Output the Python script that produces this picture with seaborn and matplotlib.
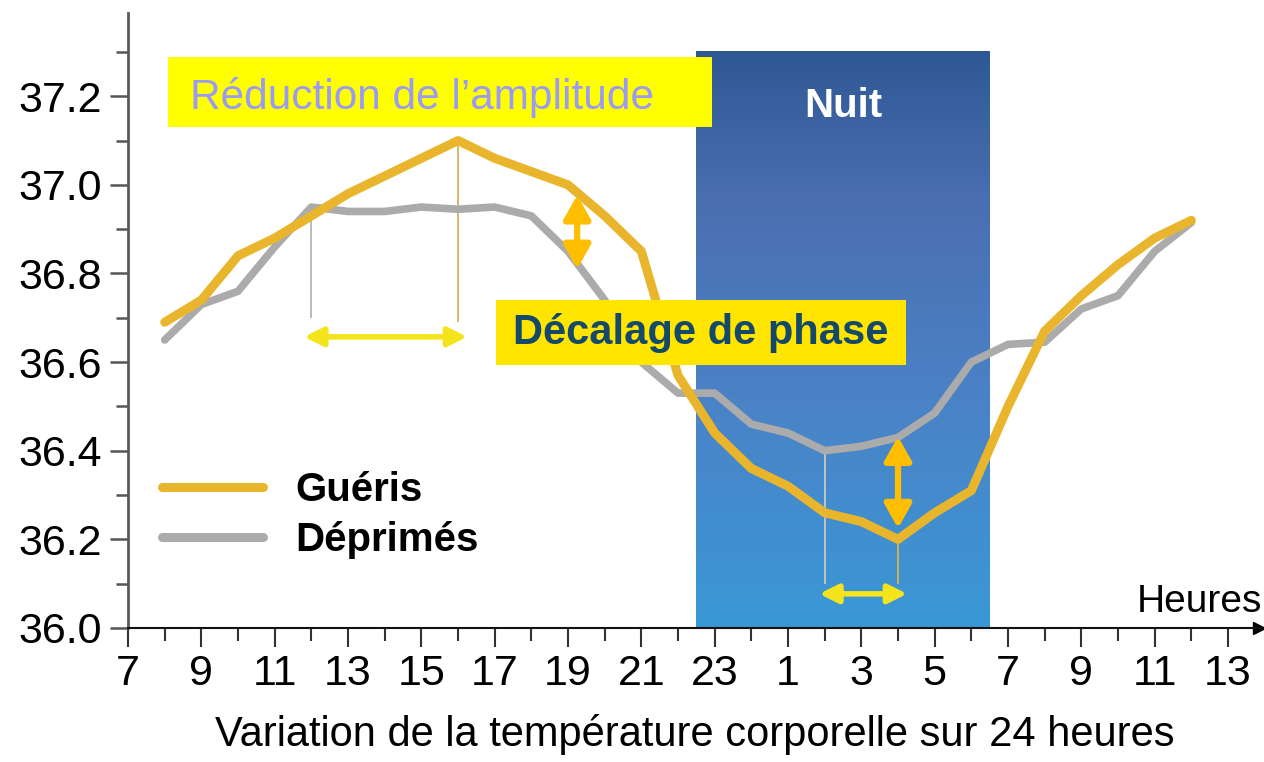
import numpy as np
import matplotlib
matplotlib.use("Agg")
import matplotlib.pyplot as plt
import seaborn as sns
from matplotlib.colors import LinearSegmentedColormap
from matplotlib.patches import Rectangle
from matplotlib.ticker import MultipleLocator

# -------------------------------
# Data (hours counted from 7h, next day goes past 24)
# -------------------------------
hours = list(range(8, 37))
gueris = [36.69, 36.74, 36.84, 36.88, 36.93, 36.98, 37.02, 37.06, 37.10,
          37.06, 37.03, 37.00, 36.93, 36.85, 36.57, 36.44, 36.36, 36.32,
          36.26, 36.24, 36.20, 36.26, 36.31, 36.50, 36.67, 36.75, 36.82,
          36.88, 36.92]
deprimes = [36.65, 36.73, 36.76, 36.86, 36.95, 36.94, 36.94, 36.95, 36.945,
            36.95, 36.93, 36.85, 36.74, 36.60, 36.53, 36.53, 36.46, 36.44,
            36.40, 36.41, 36.43, 36.485, 36.60, 36.64, 36.645, 36.72, 36.75,
            36.85, 36.915]

x_ticks = list(range(7, 38, 2))
x_tick_labels = ["7", "9", "11", "13", "15", "17", "19", "21", "23",
                 "1", "3", "5", "7", "9", "11", "13"]
y_ticks = [36.0, 36.2, 36.4, 36.6, 36.8, 37.0, 37.2]
y_tick_labels = ["36.0", "36.2", "36.4", "36.6", "36.8", "37.0", "37.2"]

night = (22.5, 30.5)
amp_hours = (12, 16)      # start of plateau (déprimés) / peak (guéris)
phase_hours = (26, 28)    # minimum déprimés / minimum guéris

ORANGE = "#e9b52c"
GREY = "#ababab"
FONT = ["Liberation Sans", "DejaVu Sans"]

sns.set_style("ticks")
plt.rcParams["font.family"] = FONT
plt.rcParams.update({"text.color": "black", "axes.labelcolor": "black",
                     "xtick.labelcolor": "black", "ytick.labelcolor": "black"})

fig = plt.figure(figsize=(12.64, 7.62), dpi=100)
ax = fig.add_axes([0.1013, 0.1759, 0.8972, 0.8071])

# -------------------------------
# Night band (gradient)
# -------------------------------
night_cmap = LinearSegmentedColormap.from_list(
    "nuit", [(0.0, "#3a98d6"), (0.4, "#4b82c6"), (0.75, "#4a6eb0"), (1.0, "#2e5894")])
grad = np.linspace(0, 1, 256).reshape(-1, 1)
ax.imshow(grad, extent=(night[0], night[1], 36.0, 37.3), origin="lower",
          aspect="auto", cmap=night_cmap, zorder=1)
ax.text(np.mean(night), 37.178, "Nuit", color="white", weight="bold",
        size=29, ha="center", va="center", zorder=6)

# -------------------------------
# Curves
# -------------------------------
sns.lineplot(x=hours, y=deprimes, ax=ax, color=GREY, linewidth=5.5,
             label="Déprimés", zorder=3, solid_joinstyle="round",
             solid_capstyle="round")
sns.lineplot(x=hours, y=gueris, ax=ax, color=ORANGE, linewidth=6.5,
             label="Guéris", zorder=4, solid_joinstyle="round",
             solid_capstyle="round")

g = dict(zip(hours, gueris))
d = dict(zip(hours, deprimes))

# guide lines
ax.vlines(amp_hours[0], 36.70, d[amp_hours[0]], color="#b5b5b5", lw=1.3, zorder=2)
ax.vlines(amp_hours[1], 36.69, g[amp_hours[1]], color="#d9b458", lw=1.3, zorder=2)
ax.vlines(phase_hours[0], 36.10, d[phase_hours[0]], color="#c8c8c8", lw=1.3, zorder=2)
ax.vlines(phase_hours[1], 36.10, g[phase_hours[1]], color="#e0b040", lw=1.3, zorder=2)

# horizontal (phase) arrows
yarrow = dict(arrowstyle="<|-|>,head_length=0.7,head_width=0.35",
              color="#f3e41c", lw=4, shrinkA=0, shrinkB=0, mutation_scale=16)
ax.annotate("", xy=(amp_hours[1] + 0.25, 36.657), xytext=(amp_hours[0] - 0.2, 36.657),
            arrowprops=yarrow, zorder=6)
ax.annotate("", xy=(phase_hours[1] + 0.25, 36.077), xytext=(phase_hours[0] - 0.15, 36.077),
            arrowprops=yarrow, zorder=6)

# vertical (amplitude) arrows
oarrow = dict(arrowstyle="<|-|>,head_length=0.8,head_width=0.45",
              color="#ffbf00", lw=4.5, shrinkA=0, shrinkB=0, mutation_scale=18)
ax.annotate("", xy=(19.25, 36.81), xytext=(19.25, 36.977), arrowprops=oarrow, zorder=6)
ax.annotate("", xy=(28.0, 36.225), xytext=(28.0, 36.432), arrowprops=oarrow, zorder=6)

# -------------------------------
# Labels in boxes
# -------------------------------
ax.add_patch(Rectangle((8.09, 37.131), 14.84, 0.158, fc="#ffff00", ec="none", zorder=5))
ax.text(8.69, 37.197, "Réduction de l’amplitude", color="#9a9af7", size=30.5,
        ha="left", va="center", zorder=6)

ax.add_patch(Rectangle((17.04, 36.594), 11.18, 0.146, fc="#ffe500", ec="none", zorder=5))
ax.text(22.63, 36.666, "Décalage de phase", color="#15496a", size=30,
        weight="bold", ha="center", va="center", zorder=6)

ax.text(37.93, 36.036, "Heures", ha="right", va="baseline", size=28)

# -------------------------------
# Legend
# -------------------------------
h, l = ax.get_legend_handles_labels()
leg = ax.legend([h[1], h[0]], [l[1], l[0]], loc="upper left",
                bbox_to_anchor=(0.03, 0.255), frameon=False,
                prop=dict(family=FONT, weight="bold", size=29),
                handlelength=2.5, handletextpad=0.8, labelspacing=0.3,
                borderpad=0, borderaxespad=0)
for line in leg.get_lines():
    line.set_linewidth(6.5)

# -------------------------------
# Axes
# -------------------------------
ax.set_xlim(7, 37.93)
ax.set_ylim(36.0, 37.388)
ax.set_xticks(x_ticks, x_tick_labels)
ax.set_yticks(y_ticks, y_tick_labels)
ax.xaxis.set_minor_locator(MultipleLocator(1))
ax.yaxis.set_minor_locator(MultipleLocator(0.1))
ax.tick_params(axis="x", which="major", length=14, width=1.5, labelsize=31, pad=5, color="#333333")
ax.tick_params(axis="x", which="minor", length=9, width=1.5, color="#333333")
ax.tick_params(axis="y", which="major", length=13, width=1.8, labelsize=31, pad=6, color="#555555")
ax.tick_params(axis="y", which="minor", length=9, width=1.8, color="#555555")
for s in ["top", "right"]:
    ax.spines[s].set_visible(False)
ax.spines["left"].set_color("#5a5a5a")
ax.spines["left"].set_linewidth(2)
ax.spines["bottom"].set_color("#111111")
ax.spines["bottom"].set_linewidth(1.5)
ax.plot([0.997], [0], marker=">", color="black", markersize=9,
        transform=ax.transAxes, clip_on=False)

ax.set_xlabel("Variation de la température corporelle sur 24 heures",
              fontsize=30, labelpad=14)
ax.set_ylabel("")

fig.savefig("out.png", dpi=100)
